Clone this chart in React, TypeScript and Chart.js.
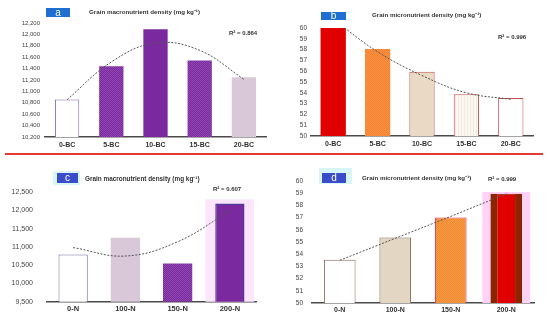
import React, { useEffect, useRef } from "react";
import { Chart, registerables } from "chart.js";
Chart.register(...registerables);

// ---------- data ----------
const bcLabels = ["0-BC", "5-BC", "10-BC", "15-BC", "20-BC"];
const nLabels = ["0-N", "100-N", "150-N", "200-N"];

const macroBC = [10860, 11440, 12090, 11540, 11250];
const macroBCTrend = [10855, 11516, 11849, 11720, 11212];
const macroBCTicks = { min: 10200, max: 12200, step: 200 };

const microBC = [60.0, 58.05, 55.95, 53.87, 53.53];
const microBCTrend = [60.8, 57.8, 55.6, 54.0, 53.4];
const microBCTicks = { min: 50, max: 60, step: 1 };

const macroN = [10795, 11248, 10546, 12189];
const macroNTrend = [10981, 10750, 11140, 11985];
const macroNHighlight = [null, null, null, 12300];
const macroNTicks = { min: 9500, max: 12500, step: 500 };

const microN = [53.55, 55.36, 57.0, 58.96];
const microNTrend = [53.5, 55.3, 57.1, 58.95];
const microNHighlight = [null, null, null, 59.1];
const microNTicks = { min: 50, max: 60, step: 1 };

const r2Values = ["0.864", "0.996", "0.607", "0.999"];
const panelLetters = ["a", "b", "c", "d"];
const macroTitle = "Grain macronutrient density (mg kg\u207B\u00B9)";
const microTitle = "Grain micronutrient density (mg kg\u207B\u00B9)";

// ---------- helpers ----------
function checker(c1: string, c2: string, size = 1) {
  const off = document.createElement("canvas");
  off.width = size * 2;
  off.height = size * 2;
  const o = off.getContext("2d")!;
  o.fillStyle = c1;
  o.fillRect(0, 0, size * 2, size * 2);
  o.fillStyle = c2;
  o.fillRect(0, 0, size, size);
  o.fillRect(size, size, size, size);
  return o.createPattern(off, "repeat");
}
function vstripes(c1: string, c2: string) {
  const off = document.createElement("canvas");
  off.width = 3;
  off.height = 1;
  const o = off.getContext("2d")!;
  o.fillStyle = c1;
  o.fillRect(0, 0, 3, 1);
  o.fillStyle = c2;
  o.fillRect(0, 0, 1, 1);
  return o.createPattern(off, "repeat");
}

type PanelProps = {
  left: number;
  top: number;
  width: number;
  height: number;
  area: { l: number; r: number; t: number; b: number };
  labels: string[];
  values: number[];
  trend: number[];
  highlight?: (number | null)[];
  highlightPct?: number;
  highlightColor?: string;
  ticks: { min: number; max: number; step: number };
  tickFont: number;
  tickPad: number;
  catFont: number;
  catPad: number;
  barPct: number;
  fills: () => any[];
  borders: string[];
  borderWidths: any[];
};

function Panel(p: PanelProps) {
  const ref = useRef<HTMLCanvasElement>(null);
  useEffect(() => {
    const datasets: any[] = [
      {
        type: "line",
        data: p.trend,
        borderColor: "#555",
        borderWidth: 1,
        borderDash: [2, 1.5],
        pointRadius: 0,
        tension: 0.4,
        fill: false,
        order: 0,
      },
      {
        type: "bar",
        data: p.values,
        backgroundColor: p.fills(),
        borderColor: p.borders,
        borderWidth: (c: any) => p.borderWidths[c.dataIndex],
        borderSkipped: false,
        barPercentage: p.barPct,
        categoryPercentage: 1,
        grouped: false,
        order: 1,
      },
    ];
    if (p.highlight) {
      datasets.push({
        type: "bar",
        data: p.highlight,
        backgroundColor: p.highlightColor,
        borderWidth: 0,
        barPercentage: p.highlightPct,
        categoryPercentage: 1,
        grouped: false,
        order: 2,
      });
    }
    const chart = new Chart(ref.current!, {
      type: "bar",
      data: { labels: p.labels, datasets },
      options: {
        animation: false,
        responsive: false,
        devicePixelRatio: 1,
        layout: {
          padding: { left: 0, top: p.area.t, right: p.width - p.area.r, bottom: 0 },
        },
        plugins: { legend: { display: false }, tooltip: { enabled: false } },
        scales: {
          x: {
            grid: { display: false, drawTicks: false },
            border: { display: true, color: "#4a4a4a", width: 1.5 },
            ticks: {
              color: "#333",
              font: { family: "'Liberation Sans', Arial, sans-serif", size: p.catFont, weight: "bold" },
              padding: p.catPad,
              maxRotation: 0,
              autoSkip: false,
            },
            afterFit: (s: any) => {
              s.height = p.height - p.area.b;
            },
          },
          y: {
            min: p.ticks.min,
            max: p.ticks.max,
            grid: { display: false, drawTicks: false },
            border: { display: false },
            ticks: {
              stepSize: p.ticks.step,
              color: "#444",
              padding: p.tickPad,
              font: { family: "'Liberation Sans', Arial, sans-serif", size: p.tickFont },
              callback: (v: any) => Number(v).toLocaleString("en-US"),
            },
            afterFit: (s: any) => {
              s.width = p.area.l;
            },
          },
        },
      },
    });
    return () => chart.destroy();
  }, []);
  return (
    <canvas
      ref={ref}
      width={p.width}
      height={p.height}
      style={{ position: "absolute", left: p.left, top: p.top, width: p.width, height: p.height, display: "block" }}
    />
  );
}

const txt: React.CSSProperties = {
  position: "absolute",
  fontFamily: "'Liberation Sans', Arial, sans-serif",
  fontWeight: "bold",
  color: "#333",
  whiteSpace: "nowrap",
  lineHeight: 1,
};

function LetterBox(props: { x: number; y: number; w: number; h: number; bg: string; letter: string; halo?: { x: number; y: number; w: number; h: number } }) {
  return (
    <>
      {props.halo && (
        <div style={{ position: "absolute", left: props.halo.x, top: props.halo.y, width: props.halo.w, height: props.halo.h, background: "#d8f6fa" }} />
      )}
      <div
        style={{
          position: "absolute",
          left: props.x,
          top: props.y,
          width: props.w,
          height: props.h,
          background: props.bg,
          color: "#fff",
          fontFamily: "'Liberation Sans', Arial, sans-serif",
          fontSize: 10,
          lineHeight: props.h + "px",
          textAlign: "center",
        }}
      >
        {props.letter}
      </div>
    </>
  );
}

const purple = "#7a2a9e";
const lilac = "#d8c8d8";

export default function App() {
  return (
    <div style={{ position: "fixed", left: 0, top: 0, width: 550, height: 320, background: "#fff", overflow: "hidden" }}>
      {/* panel a */}
      <Panel
        left={0}
        top={0}
        width={275}
        height={155}
        area={{ l: 45, r: 266, t: 23, b: 137 }}
        labels={bcLabels}
        values={macroBC}
        trend={macroBCTrend}
        ticks={macroBCTicks}
        tickFont={6}
        tickPad={5}
        catFont={7}
        catPad={4}
        barPct={0.55}
        fills={() => ["#ffffff", checker("#7a2a9e", "#9048b0"), purple, checker("#7a2a9e", "#9048b0"), lilac]}
        borders={["#8a6aa8", "#7a2a9e", purple, "#7a2a9e", lilac]}
        borderWidths={[1, 0, 0, 0, 0]}
      />
      {/* panel b */}
      <Panel
        left={275}
        top={0}
        width={275}
        height={155}
        area={{ l: 36, r: 258, t: 28, b: 136 }}
        labels={bcLabels}
        values={microBC}
        trend={microBCTrend}
        ticks={microBCTicks}
        tickFont={6.5}
        tickPad={4}
        catFont={7}
        catPad={4}
        barPct={0.57}
        fills={() => ["#e00000", checker("#f5822a", "#f7924a"), "#ead9c5", vstripes("#fcf8f4", "#f2e8de"), "#ffffff"]}
        borders={["#e00000", "#f5822a", "#c0504d", "#c0504d", "#c0504d"]}
        borderWidths={[0, 0, 1, 1, 1]}
      />
      {/* panel c */}
      <Panel
        left={0}
        top={160}
        width={275}
        height={160}
        area={{ l: 47, r: 256, t: 32, b: 145 }}
        labels={nLabels}
        values={macroN}
        trend={macroNTrend}
        highlight={macroNHighlight}
        highlightPct={0.93}
        highlightColor="#fde6fb"
        ticks={macroNTicks}
        tickFont={7}
        tickPad={14}
        catFont={7.5}
        catPad={3}
        barPct={0.56}
        fills={() => ["#ffffff", lilac, checker("#7a2a9e", "#9048b0"), purple]}
        borders={["#7a6aa0", lilac, "#7a2a9e", "#4e3a9b"]}
        borderWidths={[1, 0, 0, 1.5]}
      />
      {/* panel d */}
      <Panel
        left={275}
        top={160}
        width={275}
        height={160}
        area={{ l: 37, r: 259, t: 21, b: 143 }}
        labels={nLabels}
        values={microN}
        trend={microNTrend}
        highlight={microNHighlight}
        highlightPct={0.86}
        highlightColor="#ffd2f6"
        ticks={microNTicks}
        tickFont={6.5}
        tickPad={9}
        catFont={7}
        catPad={3}
        barPct={0.57}
        fills={() => ["#ffffff", "#e3d6c2", checker("#f08a2c", "#f49a48"), "#e00000"]}
        borders={["#8b6d5c", "#7a6a55", "#e8334a", "#8b2500"]}
        borderWidths={[1, 1, 1, { left: 7, right: 7, top: 1, bottom: 0 }]}
      />

      {/* separator */}
      <div style={{ position: "absolute", left: 5, top: 153, width: 538, height: 2, background: "#e53935" }} />

      {/* annotations */}
      <LetterBox x={46} y={8} w={24} h={9} bg="#1f6fd2" letter={panelLetters[0]} />
      <div style={{ ...txt, left: 89, top: 9, fontSize: 6.2 }}>{macroTitle}</div>
      <div style={{ ...txt, left: 229, top: 30, fontSize: 6 }}>R² = {r2Values[0]}</div>

      <LetterBox x={321} y={12} w={25} h={8} bg="#1f6fd2" letter={panelLetters[1]} />
      <div style={{ ...txt, left: 372, top: 12, fontSize: 6.2 }}>{microTitle}</div>
      <div style={{ ...txt, left: 498, top: 34, fontSize: 6 }}>R² = {r2Values[1]}</div>

      <LetterBox x={57} y={173} w={21} h={10} bg="#3b4cc8" letter={panelLetters[2]} halo={{ x: 53, y: 171, w: 27, h: 14 }} />
      <div style={{ ...txt, left: 85, top: 176, fontSize: 6.4 }}>{macroTitle}</div>
      <div style={{ ...txt, left: 213, top: 186, fontSize: 6 }}>R² = {r2Values[2]}</div>

      <LetterBox x={322} y={173} w={24} h={10} bg="#3b4cc8" letter={panelLetters[3]} halo={{ x: 319, y: 168, w: 33, h: 16 }} />
      <div style={{ ...txt, left: 362, top: 175, fontSize: 6.2 }}>{microTitle}</div>
      <div style={{ ...txt, left: 488, top: 176, fontSize: 6 }}>R² = {r2Values[3]}</div>
    </div>
  );
}
